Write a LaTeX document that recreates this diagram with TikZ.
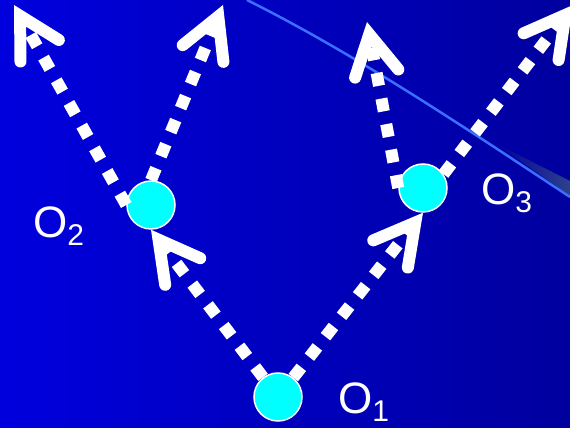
\documentclass[tikz,border=0pt]{standalone}
\usepackage{fontspec}
\setmainfont{Liberation Sans}
\usetikzlibrary{arrows.meta, math}
\definecolor{bgleft}{RGB}{0,0,222}
\definecolor{bgright}{RGB}{0,0,158}
\definecolor{rimblue}{RGB}{60,110,255}
\definecolor{wedgegray}{RGB}{45,65,140}
\definecolor{ballcyan}{RGB}{0,255,255}
\newcommand{\subidx}[1]{\raisebox{-8pt}{\fontsize{30}{30}\selectfont #1}}

\begin{document}
\begin{tikzpicture}[x=1pt, y=1pt,
  ball/.style={circle, fill=ballcyan, draw=white, line width=1.5pt, minimum size=48pt, inner sep=0pt},
  ray/.style={white, line width=12pt, dash pattern=on 13pt off 13pt,
    -{Straight Barb[length=40pt, width=44pt, line cap=round, line join=miter]}},
  lbl/.style={white, anchor=base west, inner sep=0pt, font=\fontsize{44}{44}\selectfont}]
\tikzmath{
\W=570;
\H=428;
}
\shade[left color=bgleft, right color=bgright] (0,0) rectangle (\W,\H);
\useasboundingbox (0,0) rectangle (\W,\H);
\shade[left color=bgright, right color=wedgegray] (495,285) -- (570,247) -- (570,232) -- cycle;
\draw[rimblue, line width=2.5pt] (247,\H) .. controls (355,374) and (460,303.6) .. (570,231);

\node[ball] (O1) at (278,31) {};
\node[ball] (O2) at (151,223) {};
\node[ball] (O3) at (423,240) {};

\coordinate (T1) at (14,423);
\coordinate (T2) at (223,423);
\coordinate (T3) at (367,406);
\coordinate (T4) at (573,423);

\draw[ray] (O1) -- (O2.south);
\draw[ray] (O1) -- (O3.south);
\draw[ray] (O2.west) -- (T1);
\draw[ray] (O2.north) -- (T2);
\draw[ray] (O3.west) -- (T3);
\draw[ray] (O3.34) -- (T4);

\node[lbl] (L1) at (338,14) {O\subidx{1}};
\node[lbl] (L2) at (33,190) {O\subidx{2}};
\node[lbl] (L3) at (481,223) {O\subidx{3}};
\end{tikzpicture}
\end{document}
